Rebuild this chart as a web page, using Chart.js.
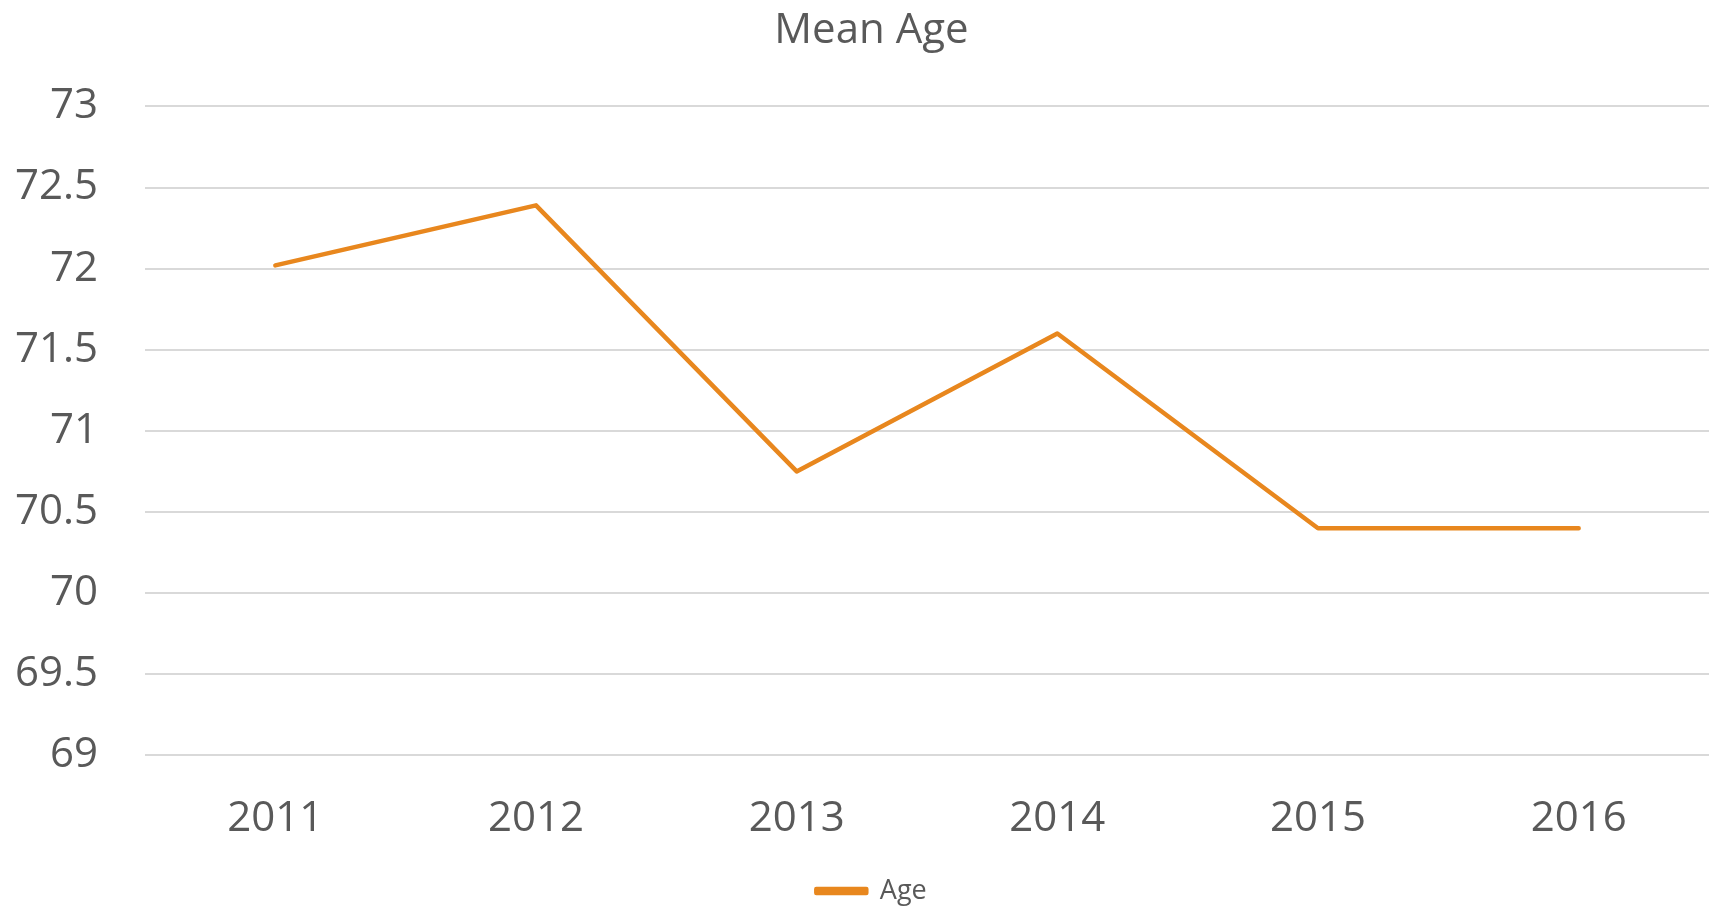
<!DOCTYPE html>
<html>
<head>
<meta charset="utf-8">
<script src="https://cdn.jsdelivr.net/npm/chart.js@4/dist/chart.umd.min.js"></script>
<style>
  html, body { margin: 0; padding: 0; background: #fff; }
  #wrap { width: 1709px; height: 908px; }
</style>
</head>
<body>
<div id="wrap"><canvas id="ageChart" width="1709" height="908"></canvas></div>
<script>
const years = ["2011", "2012", "2013", "2014", "2015", "2016"];
const meanAge = [72.02, 72.39, 70.75, 71.6, 70.4, 70.4];
const yTicks = [69, 69.5, 70, 70.5, 71, 71.5, 72, 72.5, 73];

const textColor = "#595959";
const fontFamily = "'Open Sans', 'Liberation Sans', sans-serif";

// title and legend sit a little right of the page centre, like the original
const shiftTitleLegend = {
  id: "shiftTitleLegend",
  afterLayout(chart) {
    [chart.titleBlock, chart.legend].forEach((box) => {
      if (box) {
        box.left += 17;
        box.right += 17;
      }
    });
  },
};

const ctx = document.getElementById("ageChart").getContext("2d");

new Chart(ctx, {
  type: "line",
  data: {
    labels: years,
    datasets: [
      {
        label: "Age",
        data: meanAge,
        borderColor: "#E8871E",
        backgroundColor: "#E8871E",
        borderWidth: 4.5,
        pointRadius: 0,
        tension: 0,
        borderCapStyle: "round",
        borderJoinStyle: "round",
      },
    ],
  },
  plugins: [shiftTitleLegend],
  options: {
    responsive: false,
    animation: false,
    layout: {
      padding: { left: 0, right: 0, top: 6, bottom: -6.5 },
    },
    plugins: {
      title: {
        display: true,
        text: "Mean Age",
        color: textColor,
        font: { family: fontFamily, size: 42, weight: "normal" },
        padding: { top: 0, bottom: 50 },
      },
      legend: {
        position: "bottom",
        labels: {
          color: textColor,
          font: { family: fontFamily, size: 27 },
          boxWidth: 50,
          boxHeight: 4,
          padding: 2,
        },
      },
      tooltip: { enabled: false },
    },
    scales: {
      x: {
        offset: true,
        grid: { display: false },
        border: { display: false },
        ticks: {
          color: textColor,
          font: { family: fontFamily, size: 42, lineHeight: 1.1 },
          padding: 33,
        },
      },
      y: {
        min: 69,
        max: 73,
        afterBuildTicks: (axis) => {
          axis.ticks = yTicks.map((v) => ({ value: v }));
        },
        afterFit: (axis) => {
          axis.width = 145;
        },
        grid: {
          color: "#D9D9D9",
          lineWidth: 2,
          drawTicks: false,
        },
        border: { display: false },
        ticks: {
          color: textColor,
          font: { family: fontFamily, size: 42 },
          padding: 47,
          callback: (v) => String(v),
        },
      },
    },
  },
});
</script>
</body>
</html>
